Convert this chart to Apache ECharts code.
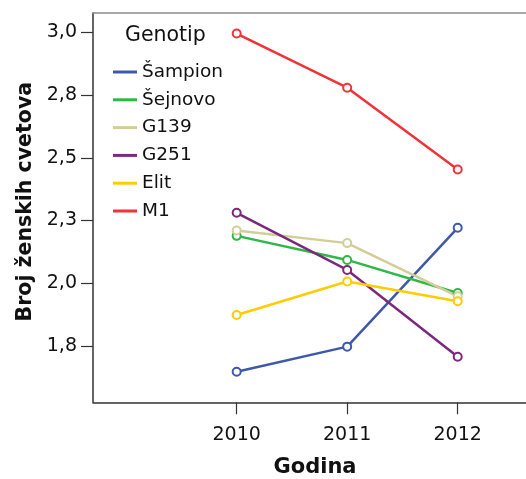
<!DOCTYPE html>
<html>
<head>
<meta charset="utf-8">
<script src="https://cdn.jsdelivr.net/npm/echarts@6/dist/echarts.min.js"></script>
<style>
html,body{margin:0;padding:0;background:#fff;}
#chart{width:526px;height:479px;}
</style>
</head>
<body>
<div id="chart"></div>
<script>
const years = [2010, 2011, 2012];
const yTicks = [1.75, 2.0, 2.25, 2.5, 2.75, 3.0];
const seriesNames = ['Šampion', 'Šejnovo', 'G139', 'G251', 'Elit', 'M1'];
const sampion = [1.647, 1.747, 2.221];
const sejnovo = [2.189, 2.093, 1.961];
const g139 = [2.210, 2.160, 1.948];
const g251 = [2.281, 2.053, 1.707];
const elit = [1.873, 2.007, 1.928];
const m1 = [2.996, 2.780, 2.454];
const seriesValues = [sampion, sejnovo, g139, g251, elit, m1];
const colors = ['#3E58AC', '#2EB848', '#D3CE97', '#7C287D', '#FFCC00', '#EF3338'];

const font = 'DejaVu Sans';
const chart = echarts.init(document.getElementById('chart'), null, {renderer: 'canvas'});

const series = seriesNames.map((name, i) => ({
  name: name,
  type: 'line',
  data: years.map((y, j) => [y, seriesValues[i][j]]),
  symbol: 'circle',
  symbolSize: 8,
  showAllSymbol: true,
  lineStyle: {color: colors[i], width: 2.5},
  itemStyle: {color: '#fff', borderColor: colors[i], borderWidth: 2},
  emphasis: {disabled: true},
  z: 3
}));

chart.setOption({
  animation: false,
  backgroundColor: '#fff',
  grid: {left: 93, top: 13, right: 0, bottom: 76.7, show: false, outerBoundsMode: 'none', containLabel: false},
  xAxis: [{
    type: 'value',
    position: 'bottom',
    min: 2008.7, max: 2012.618,
    name: 'Godina',
    nameLocation: 'middle',
    nameGap: 55,
    nameTextStyle: {fontFamily: font, fontWeight: 'bold', fontSize: 21, color: '#111', padding: [0, 0, 0, 11]},
    axisLine: {show: true, lineStyle: {color: '#333', width: 1.5}},
    axisTick: {show: true, length: 12, lineStyle: {color: '#333', width: 1.2}, customValues: years},
    axisLabel: {
      customValues: years,
      fontFamily: font, fontSize: 19, color: '#111', margin: 23,
      formatter: v => String(v)
    },
    splitLine: {show: false}
  }, {
    type: 'value',
    position: 'top',
    min: 2008.7, max: 2012.618,
    axisLine: {show: true, lineStyle: {color: '#8a8a8a', width: 1.5}},
    axisTick: {show: false},
    axisLabel: {show: false},
    splitLine: {show: false}
  }],
  yAxis: {
    type: 'value',
    min: 1.525, max: 3.078,
    name: 'Broj ženskih cvetova',
    nameLocation: 'middle',
    nameGap: 56,
    nameTextStyle: {fontFamily: font, fontWeight: 'bold', fontSize: 20.5, color: '#111', padding: [0, 0, 0, 12]},
    axisLine: {show: true, lineStyle: {color: '#333', width: 1.5}},
    axisTick: {show: true, length: 12, lineStyle: {color: '#333', width: 1.2}, customValues: yTicks},
    axisLabel: {
      customValues: yTicks,
      fontFamily: font, fontSize: 19, color: '#111', margin: 16,
      formatter: v => v.toFixed(1).replace('.', ',')
    },
    splitLine: {show: false}
  },
  legend: {
    show: true,
    orient: 'vertical',
    left: 113, top: 61,
    padding: 0,
    data: seriesNames.map((n, i) => ({name: n, itemStyle: {color: colors[i], borderWidth: 0}})),
    icon: 'rect',
    itemWidth: 24, itemHeight: 3,
    itemGap: 5.8,
    textStyle: {fontFamily: font, fontSize: 18.5, color: '#111', lineHeight: 22},
    selectedMode: false
  },
  graphic: [{
    type: 'text',
    left: 125, top: 25,
    style: {text: 'Genotip', font: '20.5px "DejaVu Sans"', fill: '#111'}
  }],
  series: series
});
</script>
</body>
</html>
